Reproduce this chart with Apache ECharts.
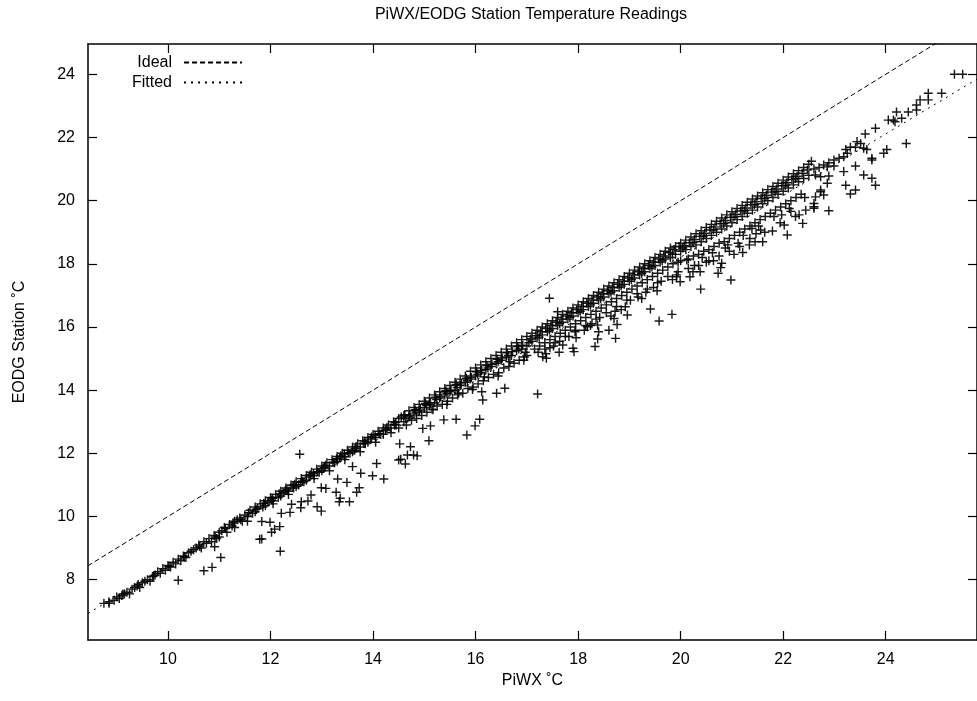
<!DOCTYPE html>
<html>
<head>
<meta charset="utf-8">
<script src="https://cdn.jsdelivr.net/npm/echarts@6/dist/echarts.min.js"></script>
<style>
html,body{margin:0;padding:0;background:#fff;}
#chart{width:977px;height:701px;}
</style>
</head>
<body>
<div id="chart"></div>
<script>
// ---- axis ranges & ticks ----
const xRange = [8.44, 25.78];
const yRange = [6.09, 24.96];
const xTicks = [10, 12, 14, 16, 18, 20, 22, 24];
const yTicks = [8, 10, 12, 14, 16, 18, 20, 22, 24];

// ---- reference lines ----
const idealX = [8.44, 25.78];
const idealY = [8.44, 25.78];
const fittedX = [8.44, 25.78];
const fittedY = [6.93, 23.85];

// ---- readings: main band (PiWX, EODG) ----
const bandLow = [
[8.75,7.25],[8.85,7.25],[8.85,7.3],[8.95,7.35],[9.0,7.45],[9.05,7.4],[9.1,7.5],[9.15,7.55],[9.2,7.6],[9.25,7.55],[9.3,7.7],[9.35,7.75],[9.4,7.8],[9.45,7.75],[9.5,7.9],[9.55,7.95],[9.6,8.0],[9.65,7.95],[9.7,8.1],[9.75,8.15],[9.8,8.25],[9.85,8.2],[9.9,8.35],[9.95,8.3],[10.0,8.45],[10.05,8.4],[10.1,8.55],[10.15,8.5],[10.2,8.65],[10.25,8.6],[10.3,8.75],[10.35,8.7],[10.4,8.85],[10.45,8.9],[10.5,8.95],[10.55,9.0],[10.6,9.1],[10.65,9.0],[10.7,9.2],[10.75,9.15],[10.8,9.3],[10.85,9.2],[10.9,9.4],[10.95,9.3],[11.0,9.5],[11.0,9.35]
];
const bandMidLow = [
[11.05,9.55],[11.1,9.65],[11.15,9.5],[11.2,9.75],[11.25,9.7],[11.3,9.85],[11.3,9.65],[11.35,9.9],[11.4,9.95],[11.45,9.85],[11.5,10.05],[11.55,10.0],[11.55,9.85],[11.6,10.2],[11.65,10.1],[11.7,10.3],[11.7,10.15],[11.75,10.25],[11.8,10.4],[11.85,10.3],[11.9,10.5],[11.9,10.35],[11.95,10.45],[12.0,10.6],[12.05,10.5],[12.05,10.4],[12.1,10.7],[12.15,10.6],[12.2,10.8],[12.2,10.65],[12.25,10.75],[12.3,10.9],[12.35,10.8],[12.35,10.7],[12.4,11.0],[12.45,10.9],[12.5,11.1],[12.5,10.95],[12.55,11.0],[12.6,11.2],[12.65,11.1],[12.7,11.3],[12.7,11.15],[12.75,11.25],[12.8,11.4],[12.85,11.3],[12.85,11.2],[12.9,11.5],[12.95,11.4],[13.0,11.6],[13.0,11.45],[13.05,11.55],[13.1,11.7],[13.15,11.6],[13.15,11.45],[13.2,11.8],[13.25,11.7],[13.3,11.9],[13.3,11.75],[13.35,11.85],[13.4,12.0],[13.45,11.9],[13.45,11.8],[13.5,12.1],[13.55,12.0],[13.6,12.2],[13.6,12.05],[13.65,12.15],[13.7,12.3],[13.75,12.2],[13.75,12.05],[13.8,12.4],[13.85,12.3],[13.9,12.5],[13.9,12.35],[13.95,12.45],[14.0,12.6],[14.05,12.5],[14.05,12.35],[14.1,12.7],[14.15,12.6],[14.2,12.8],[14.2,12.6],[14.25,12.75],[14.3,12.9],[14.35,12.8],[14.35,12.65],[14.4,13.0],[14.45,12.9],[14.5,13.1],[14.5,12.8]
];
const bandMid = [
[14.55,13.15],[14.6,13.2],[14.6,13.0],[14.65,12.9],[14.7,13.35],[14.7,13.15],[14.75,13.05],[14.8,13.45],[14.8,13.25],[14.85,13.1],[14.9,13.55],[14.9,13.35],[14.95,13.2],[15.0,13.65],[15.0,13.45],[15.05,13.3],[15.1,13.75],[15.1,13.55],[15.15,13.4],[15.2,13.85],[15.2,13.6],[15.25,13.5],[15.3,13.95],[15.3,13.75],[15.35,13.55],[15.4,14.05],[15.4,13.85],[15.45,13.65],[15.5,14.15],[15.5,13.95],[15.55,13.75],[15.6,14.25],[15.6,14.0],[15.65,13.85],[15.7,14.35],[15.7,14.15],[15.75,13.9],[15.8,14.45],[15.8,14.25],[15.85,14.05],[15.9,14.6],[15.9,14.35],[15.95,14.1],[16.0,14.7],[16.0,14.45],[16.05,14.2],[16.1,14.8],[16.1,14.55],[16.15,14.3],[16.2,14.9],[16.2,14.65],[16.25,14.4],[16.3,15.0],[16.3,14.75],[16.35,14.5],[16.4,15.1],[16.4,14.85],[16.45,14.55],[16.5,15.2],[16.5,14.95],[16.55,14.7],[16.6,15.3],[16.6,15.05],[16.65,14.75],[16.7,15.4],[16.7,15.1],[16.75,14.85],[16.8,15.5],[16.8,15.25],[16.85,14.95],[16.9,15.6],[16.9,15.3],[16.95,15.05],[17.0,15.7],[17.0,15.4],[17.0,15.1]
];
const bandMidHigh = [
[17.1,15.8],[17.1,15.55],[17.15,15.3],[17.2,15.9],[17.2,15.65],[17.25,15.4],[17.3,16.0],[17.3,15.75],[17.35,15.5],[17.35,15.3],[17.4,16.1],[17.4,15.85],[17.45,15.6],[17.5,16.2],[17.5,15.95],[17.55,15.7],[17.55,15.5],[17.6,16.3],[17.6,16.05],[17.65,15.8],[17.7,16.4],[17.7,16.15],[17.75,15.9],[17.75,15.7],[17.8,16.5],[17.8,16.25],[17.85,16.0],[17.9,16.6],[17.9,16.35],[17.95,16.1],[17.95,15.9],[18.0,16.7],[18.0,16.45],[18.05,16.2],[18.1,16.8],[18.1,16.55],[18.15,16.3],[18.15,16.05],[18.2,16.9],[18.2,16.65],[18.25,16.4],[18.3,17.0],[18.3,16.75],[18.35,16.5],[18.35,16.25],[18.4,17.1],[18.4,16.85],[18.45,16.6],[18.5,17.2],[18.5,16.95],[18.55,16.7],[18.55,16.45],[18.6,17.3],[18.6,17.05],[18.65,16.8],[18.7,17.4],[18.7,17.15],[18.75,16.9],[18.75,16.65],[18.8,17.5],[18.8,17.25],[18.85,17.0],[18.9,17.6],[18.9,17.35],[18.95,17.1],[18.95,16.85],[19.0,17.7],[19.0,17.45],[19.05,17.2],[19.1,17.8],[19.1,17.55],[19.15,17.3],[19.15,17.05],[19.2,17.9],[19.2,17.65],[19.25,17.4],[19.3,18.0],[19.3,17.75],[19.35,17.5],[19.35,17.2],[19.4,18.1],[19.4,17.85],[19.45,17.6],[19.5,18.2],[19.5,17.95],[19.55,17.7],[19.55,17.4],[19.6,18.3],[19.6,18.05],[19.65,17.8],[19.7,18.4],[19.7,18.15],[19.75,17.9],[19.75,17.6],[19.8,18.5],[19.8,18.2],[19.85,18.0],[19.9,18.55],[19.9,18.3],[19.95,18.05],[19.95,17.75],[20.0,18.65],[20.0,18.4],[20.0,18.1]
];
const bandHigh = [
[20.1,18.75],[20.1,18.45],[20.15,18.15],[20.15,17.85],[20.2,18.85],[20.2,18.55],[20.25,18.25],[20.3,18.95],[20.3,18.6],[20.35,18.3],[20.35,17.95],[20.4,19.05],[20.4,18.7],[20.45,18.4],[20.5,19.15],[20.5,18.8],[20.55,18.45],[20.55,18.1],[20.6,19.25],[20.6,18.9],[20.65,18.55],[20.7,19.35],[20.7,19.0],[20.75,18.65],[20.75,18.25],[20.8,19.45],[20.8,19.1],[20.85,18.7],[20.9,19.55],[20.9,19.2],[20.95,18.8],[20.95,18.4],[21.0,19.65],[21.0,19.3],[21.05,18.9],[21.1,19.75],[21.1,19.4],[21.15,19.0],[21.15,18.55],[21.2,19.85],[21.2,19.5],[21.25,19.1],[21.3,19.95],[21.3,19.6],[21.35,19.2],[21.35,18.8],[21.4,20.05],[21.4,19.7],[21.45,19.3],[21.5,20.15],[21.5,19.8],[21.55,19.4],[21.6,20.25],[21.6,19.9],[21.65,19.5],[21.7,20.35],[21.7,20.0],[21.75,19.6],[21.8,20.45],[21.8,20.1],[21.85,19.7],[21.9,20.55],[21.9,20.2],[21.95,19.8],[22.0,20.65],[22.0,20.3],[22.05,19.9],[22.1,20.75],[22.1,20.4],[22.15,20.0],[22.2,20.85],[22.2,20.5],[22.25,20.1],[22.3,20.95],[22.3,20.6],[22.35,20.2],[22.4,21.05],[22.4,20.7],[22.5,21.15],[22.5,20.8],[22.55,21.25],[22.6,21.0]
];
const bandFill = [
[9.12,7.55],[9.42,7.85],[9.72,8.12],[10.02,8.42],[10.32,8.72],[10.62,9.05],[10.92,9.35],
[11.12,9.62],[11.27,9.8],[11.42,9.9],[11.57,10.12],[11.72,10.22],[11.87,10.42],[12.02,10.52],[12.17,10.72],[12.32,10.85],[12.47,11.02],[12.62,11.12],[12.77,11.32],[12.92,11.42],[13.07,11.62],[13.22,11.72],[13.37,11.92],[13.52,12.02],[13.67,12.22],[13.82,12.32],[13.97,12.52],[14.12,12.62],[14.27,12.82],[14.42,12.92],
[14.62,13.22],[14.72,13.2],[14.82,13.38],[14.92,13.4],[15.02,13.58],[15.12,13.6],[15.22,13.78],[15.32,13.8],[15.42,13.98],[15.52,14.0],[15.62,14.18],[15.72,14.2],[15.82,14.38],[15.92,14.4],[16.02,14.58],[16.12,14.62],[16.22,14.78],[16.32,14.82],[16.42,14.98],[16.52,15.02],[16.62,15.18],[16.72,15.22],[16.82,15.38],[16.92,15.42],
[15.17,13.38],[15.67,13.9],[16.17,14.42],[16.67,14.9],[16.97,15.2],
[17.07,15.62],[17.17,15.72],[17.27,15.85],[17.37,15.95],[17.47,16.05],[17.57,16.15],[17.67,16.25],[17.77,16.35],[17.87,16.45],[17.97,16.55],[18.07,16.65],[18.17,16.75],[18.27,16.85],[18.37,16.95],[18.47,17.05],[18.57,17.15],[18.67,17.25],[18.77,17.35],[18.87,17.45],[18.97,17.55],[19.07,17.65],[19.17,17.75],[19.27,17.85],[19.37,17.95],[19.47,18.05],[19.57,18.15],[19.67,18.25],[19.77,18.35],[19.87,18.45],[19.97,18.55],
[17.22,15.2],[17.52,15.4],[17.82,15.7],[18.12,15.9],[18.42,16.3],[18.72,16.5],[19.02,16.85],[19.32,17.1],[19.62,17.45],[19.92,17.65],[17.37,15.15],[18.27,16.1],[19.17,16.95],[19.47,17.25],
[20.07,18.57],[20.17,18.67],[20.27,18.77],[20.37,18.87],[20.47,18.97],[20.57,19.07],[20.67,19.17],[20.77,19.27],[20.87,19.37],[20.97,19.47],[21.07,19.57],[21.17,19.67],[21.27,19.77],[21.37,19.87],[21.47,19.97],[21.57,20.07],[21.67,20.17],[21.77,20.27],[21.87,20.37],[21.97,20.47],[22.07,20.57],[22.17,20.67],[22.27,20.77],[22.37,20.87],[22.47,20.97],
[20.12,18.12],[20.42,18.2],[20.62,18.35],[20.92,18.6],[21.22,18.9],[21.52,19.2],[21.82,19.5],[22.12,19.75],[22.42,20.1],[20.27,17.95],[20.87,18.5],[21.47,18.95],[21.97,19.55]
];
const bandFill2 = [
[12.04,10.58],[12.29,10.82],[12.44,10.98],[12.59,11.08],[12.84,11.36],[13.04,11.52],[13.29,11.82],[13.44,11.98],[13.64,12.1],[13.84,12.38],[14.04,12.56],[14.24,12.72],[14.44,12.98],[14.64,13.1],[14.84,13.3],[15.04,13.52],[15.24,13.7],[15.44,13.9],[15.64,14.08],[15.84,14.3],[16.04,14.5],[16.24,14.7],[16.44,14.9],[16.64,15.1],[16.84,15.3],[17.04,15.5],[17.24,15.68],[17.44,15.9],[17.64,16.1],[17.84,16.3],[18.04,16.5],[18.24,16.7],[18.44,16.9],[18.64,17.1],[18.84,17.3],[19.04,17.5],[19.24,17.7],[19.44,17.9],[19.64,18.1],[19.84,18.3],[20.04,18.5],[20.24,18.68],[20.44,18.88],[20.64,19.08],[20.84,19.28],[21.04,19.48],[21.24,19.68],[21.44,19.88],[21.64,20.08],[21.84,20.28],[22.04,20.48],[22.24,20.7],
[15.44,13.55],[15.94,14.02],[16.44,14.45],[16.94,14.95],[17.64,15.55],[17.94,15.85],[18.24,16.05],[18.64,16.35],[18.84,16.55],[19.24,16.9],[19.54,17.15],[19.84,17.5],[20.24,17.75],[20.64,18.1],[21.04,18.3],[21.34,18.6],[21.64,19.0],[21.94,19.3],[22.24,19.5],[22.44,19.7]
];
const bandTop = [
[22.63,20.81],[22.73,20.76],[22.89,20.78],[22.86,20.55],[22.73,20.28],[22.79,20.18],[22.63,20.12],[22.60,19.81],[22.89,19.68],[22.70,21.05],[22.79,21.13],[22.86,21.07],[22.89,21.20],[22.99,21.29],[22.99,21.10],[23.09,21.34],[23.18,21.39],[23.25,21.50],[23.22,21.62],[23.31,21.69],[23.41,21.69],[23.44,21.87],[23.51,21.81],[23.57,21.66],[23.63,21.62],[23.60,22.11],[23.80,22.29],[24.05,22.55],[24.15,22.55],[24.18,22.50],[24.31,22.61],[24.21,22.81],[24.44,22.81],[24.60,22.87],[24.60,23.03],[24.67,23.19],[24.83,23.19],[24.83,23.40],[25.09,23.40],[25.34,24.0],[25.50,24.0]
];

// ---- readings: outliers below the band ----
const outliersLow = [
[10.2,7.98],[10.7,8.28],[10.86,8.39],[11.03,8.70],[12.19,8.9],[11.79,9.28],[10.91,9.04],
[12.57,11.97],[14.50,11.79],[14.07,11.68],[13.99,11.29],[14.21,11.19],[13.76,11.37],[13.60,11.58],[13.49,11.08],[13.31,11.19],[13.73,10.91],[13.68,10.77],[13.28,10.77],[13.36,10.58],[13.54,10.47],[13.34,10.47],[13.08,10.89],[12.99,10.91],[12.79,10.68],[12.73,10.49],[12.60,10.47],[12.59,10.28],[12.91,10.31],[12.99,10.17],[12.41,10.39],[12.38,10.13],[12.21,10.10],[11.83,9.84],[11.99,9.82],[12.18,9.68],[12.08,9.60],[12.02,9.50],[11.83,9.29]
];
const outliersMid = [
[16.57,14.06],[16.41,13.90],[16.12,13.95],[16.14,13.69],[17.21,13.88],[16.08,13.08],[15.99,12.87],[15.83,12.58],[15.62,13.08],[15.38,13.06],[15.12,12.87],[14.97,12.79],[15.09,12.40],[14.73,12.21],[14.52,12.30],[14.79,11.95],[14.86,11.92],[14.67,11.95],[14.54,11.81],[14.63,11.66],
[17.44,16.91],[17.6,16.48],[19.83,16.40],[19.58,16.19],[19.41,16.57],[18.92,16.64],[18.96,16.38],[18.76,16.08],[18.70,16.27],[18.60,15.90],[18.73,15.64],[18.38,15.62],[18.33,15.38],[18.40,15.85],[18.38,16.06],[18.18,16.01],[17.96,15.66],[17.90,15.33],[17.92,15.22],[17.70,15.43],[17.63,15.20],[17.38,15.01],[17.31,15.06],[17.45,15.34]
];
const outliersHigh = [
[20.39,17.20],[20.98,17.49],[20.73,17.70],[20.78,17.88],[20.50,18.05],[19.99,17.43],[19.92,17.59],[20.18,17.59],[20.38,17.75],[21.60,18.70],[22.08,18.91],[21.79,19.04],[22.38,19.28],[22.31,19.55],[22.60,19.76],[22.60,19.91],[22.73,20.34],[22.02,19.23],[22.15,19.66],[21.45,18.70],[21.39,19.12],[21.56,19.07],[21.21,18.36],[21.12,18.65],[20.80,18.02],
[24.40,21.81],[24.02,21.62],[23.96,21.50],[23.73,21.34],[23.73,21.29],[23.41,21.10],[23.57,20.81],[23.73,20.71],[23.80,20.49],[23.22,20.49],[23.41,20.34],[23.31,20.21],[23.18,20.92]
];

const readings = [].concat(bandLow, bandMidLow, bandMid, bandMidHigh, bandHigh, bandFill, bandFill2, bandTop, outliersLow, outliersMid, outliersHigh);

const FONT = '"Liberation Sans", Arial, Helvetica, sans-serif';
const FS = 16;
const black = '#000';

function axisBase(pos, range, ticks, showLabels) {
  return {
    type: 'value',
    position: pos,
    min: range[0],
    max: range[1],
    splitLine: { show: false },
    axisLine: { show: true, onZero: false, lineStyle: { color: black, width: 1.5 } },
    axisTick: { show: true, inside: true, length: 9, customValues: ticks, lineStyle: { color: black, width: 1.2 } },
    axisLabel: { show: showLabels, customValues: ticks, color: black, fontSize: FS, fontFamily: FONT },
  };
}

const xBottom = axisBase('bottom', xRange, xTicks, true);
xBottom.axisLabel.margin = 12;
xBottom.name = 'PiWX ˚C';
xBottom.nameLocation = 'middle';
xBottom.nameGap = 31;
xBottom.nameTextStyle = { color: black, fontSize: FS, fontFamily: FONT };
const xTop = axisBase('top', xRange, xTicks, false);

const yLeft = axisBase('left', yRange, yTicks, true);
yLeft.axisLabel.margin = 13;
yLeft.name = 'EODG Station ˚C';
yLeft.nameLocation = 'middle';
yLeft.nameGap = 60;
yLeft.nameTextStyle = { color: black, fontSize: FS, fontFamily: FONT };
const yRight = axisBase('right', yRange, yTicks, false);

const chart = echarts.init(document.getElementById('chart'), null, { renderer: 'canvas' });
chart.setOption({
  backgroundColor: '#fff',
  animation: false,
  title: {
    text: 'PiWX/EODG Station Temperature Readings',
    left: 531, top: 7, textAlign: 'center', padding: 0,
    textStyle: { color: black, fontSize: FS, fontWeight: 'normal', fontFamily: FONT }
  },
  legend: {
    data: ['Ideal', 'Fitted'],
    orient: 'vertical',
    align: 'right',
    left: 132, top: 54,
    padding: 0,
    itemWidth: 58, itemHeight: 14, itemGap: 3,
    itemStyle: { color: 'rgba(0,0,0,0)', borderWidth: 0, opacity: 0 },
    textStyle: { color: black, fontSize: FS, fontFamily: FONT, padding: [0, 7, 0, 0], lineHeight: 17 }
  },
  grid: { left: 88, right: -7, top: 44, bottom: 61, containLabel: false },
  xAxis: [xBottom, xTop],
  yAxis: [yLeft, yRight],
  series: [
    {
      name: 'Readings', type: 'scatter', xAxisIndex: 0, yAxisIndex: 0,
      data: readings,
      symbol: 'path://M0,4.2H10V5.8H0Z M4.2,0H5.8V10H4.2Z',
      symbolSize: 9,
      itemStyle: { color: '#000', opacity: 0.9 },
      emphasis: { disabled: true }
    },
    {
      name: 'Ideal', type: 'line', xAxisIndex: 0, yAxisIndex: 0,
      data: idealX.map((x, i) => [x, idealY[i]]),
      symbol: 'none', clip: true,
      itemStyle: { color: black },
      lineStyle: { color: black, width: 1, type: [5, 3] }
    },
    {
      name: 'Fitted', type: 'line', xAxisIndex: 0, yAxisIndex: 0,
      data: fittedX.map((x, i) => [x, fittedY[i]]),
      symbol: 'none', clip: true,
      itemStyle: { color: black },
      lineStyle: { color: black, width: 1, type: [2, 5] }
    }
  ]
});
</script>
</body>
</html>
